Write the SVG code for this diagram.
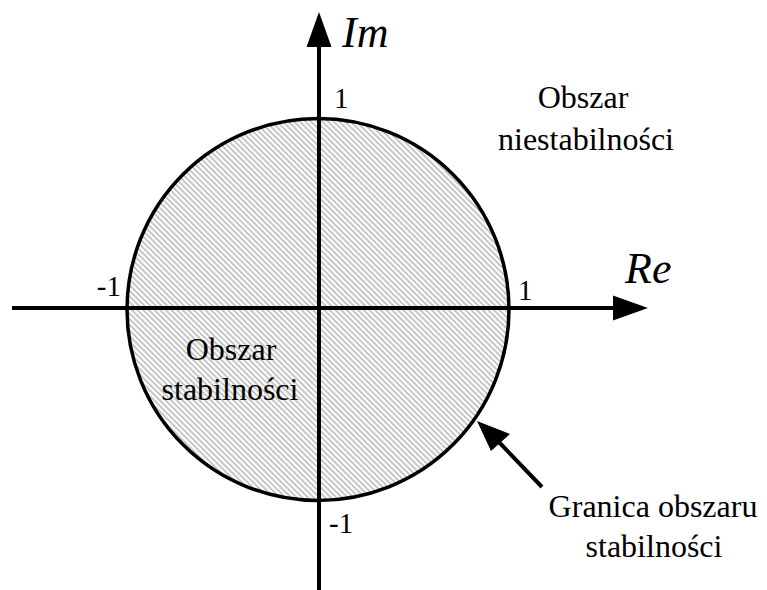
<svg xmlns="http://www.w3.org/2000/svg" width="767" height="590" viewBox="0 0 767 590">
<style>
.t{font-family:"Liberation Serif","Times New Roman",serif;fill:#000;}
.lbl{font-size:32px;text-anchor:middle;}
.num{font-size:29px;}
.ax{font-size:44px;font-style:italic;}
.line{stroke:#000;stroke-width:4;fill:none;}
</style>
<defs>
<pattern id="hatch" patternUnits="userSpaceOnUse" width="10" height="4" patternTransform="rotate(45)">
<rect width="10" height="4" fill="#fff"/>
<line x1="0" y1="2" x2="10" y2="2" stroke="#999" stroke-width="1.1"/>
</pattern>
</defs>
<rect width="767" height="590" fill="#fff"/>
<g id="region">
<circle cx="318" cy="309.5" r="191" fill="url(#hatch)" stroke="#000" stroke-width="3.5"/>
</g>
<g id="connectors">
<line class="line" x1="12" y1="308" x2="616" y2="308"/>
<polygon points="648,308 613,295.5 613,320.5" fill="#000"/>
<line class="line" x1="319" y1="590" x2="319" y2="44"/>
<polygon points="319,12 306.5,47 331.5,47" fill="#000"/>
<line class="line" x1="542" y1="487" x2="496" y2="439"/>
<polygon points="477,421 510,434 491,451" fill="#000"/>
</g>
<g id="axis-labels">
<text class="t ax" x="342" y="47">Im</text>
<text class="t ax" x="625" y="283">Re</text>
<text class="t num" x="334" y="108">1</text>
<text class="t num" x="121" y="296" text-anchor="end">-1</text>
<text class="t num" x="518" y="300">1</text>
<text class="t num" x="329" y="533">-1</text>
</g>
<g id="unstable">
<text class="t lbl" x="583" y="108">Obszar</text>
<text class="t lbl" x="586" y="150">niestabilności</text>
</g>
<g id="stable">
<text class="t lbl" x="231" y="360">Obszar</text>
<text class="t lbl" x="230" y="400">stabilności</text>
</g>
<g id="boundary">
<text class="t lbl" x="653" y="517">Granica obszaru</text>
<text class="t lbl" x="654" y="557">stabilności</text>
</g>
</svg>
